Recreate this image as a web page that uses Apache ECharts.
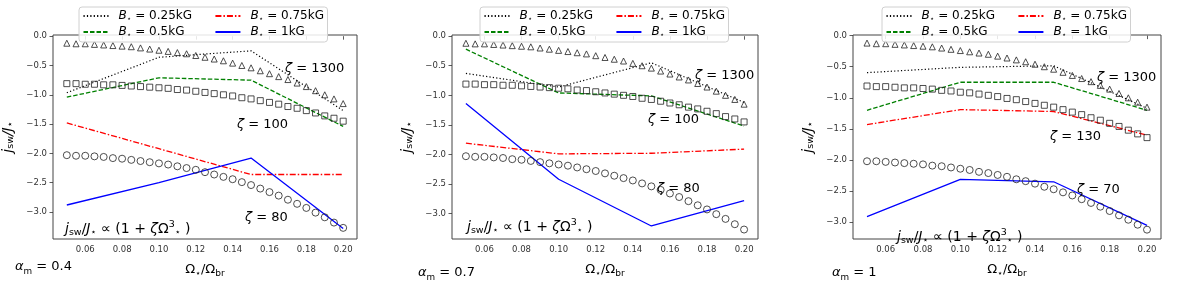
<!DOCTYPE html>
<html><head><meta charset="utf-8">
<script src="https://cdn.jsdelivr.net/npm/echarts@6/dist/echarts.min.js"></script>
<style>html,body{margin:0;padding:0;background:#fff}#c{width:1200px;height:283px}</style>
</head><body><div id="c"></div>
<script>
// ---- data ----
const omega = [0.050,0.055,0.060,0.065,0.070,0.075,0.080,0.085,0.090,0.095,0.100,0.105,0.110,0.115,0.120,0.125,0.130,0.135,0.140,0.145,0.150,0.155,0.160,0.165,0.170,0.175,0.180,0.185,0.190,0.195,0.200];
const bOmega = [0.05, 0.10, 0.15, 0.20];
const xTicks = [0.06,0.08,0.10,0.12,0.14,0.16,0.18,0.20];
const yTicks = [0.0,-0.5,-1.0,-1.5,-2.0,-2.5,-3.0];
const bNames = ['0.25kG','0.5kG','0.75kG','1kG'];
const alphaLabels = ['0.4','0.7','1'];

// reference markers
const tri1300 = [-0.12,-0.13,-0.13,-0.14,-0.15,-0.16,-0.17,-0.18,-0.20,-0.22,-0.24,-0.26,-0.28,-0.30,-0.33,-0.36,-0.39,-0.42,-0.46,-0.50,-0.54,-0.59,-0.64,-0.69,-0.74,-0.80,-0.86,-0.93,-1.00,-1.07,-1.15];
const sq100 = [-0.81,-0.81,-0.82,-0.82,-0.83,-0.83,-0.84,-0.85,-0.86,-0.87,-0.88,-0.89,-0.91,-0.92,-0.94,-0.96,-0.98,-1.00,-1.02,-1.05,-1.07,-1.10,-1.13,-1.16,-1.20,-1.23,-1.27,-1.31,-1.36,-1.40,-1.45];
const circ80 = [-2.03,-2.04,-2.04,-2.05,-2.06,-2.08,-2.09,-2.11,-2.13,-2.15,-2.17,-2.19,-2.22,-2.25,-2.28,-2.32,-2.36,-2.40,-2.44,-2.49,-2.54,-2.60,-2.66,-2.72,-2.79,-2.86,-2.93,-3.01,-3.09,-3.18,-3.27];
const sq130 = [-0.81,-0.82,-0.82,-0.83,-0.84,-0.84,-0.85,-0.86,-0.88,-0.89,-0.91,-0.92,-0.94,-0.96,-0.98,-1.01,-1.03,-1.06,-1.09,-1.12,-1.15,-1.19,-1.23,-1.27,-1.32,-1.36,-1.41,-1.46,-1.52,-1.58,-1.64];
const circ70 = [-2.02,-2.02,-2.03,-2.04,-2.05,-2.06,-2.07,-2.09,-2.10,-2.12,-2.14,-2.16,-2.19,-2.21,-2.24,-2.27,-2.31,-2.34,-2.38,-2.43,-2.47,-2.52,-2.57,-2.63,-2.69,-2.75,-2.82,-2.89,-2.96,-3.04,-3.12];

// simulation lines, per panel, per B (at bOmega)
const p1_b025 = [-0.965,-0.36,-0.25,-1.27];
const p1_b05  = [-1.04,-0.71,-0.75,-1.54];
const p1_b075 = [-1.48,-1.92,-2.36,-2.36];
const p1_b1   = [-2.88,-2.50,-2.08,-3.28];
const p2_b025 = [-0.63,-0.86,-0.45,-1.12];
const p2_b05  = [-0.22,-0.96,-1.01,-1.52];
const p2_b075 = [-1.81,-1.99,-1.98,-1.91];
const p2_b1   = [-1.14,-2.42,-3.21,-2.78];
const p3_b025 = [-0.595,-0.51,-0.485,-1.17];
const p3_b05  = [-1.20,-0.75,-0.75,-1.20];
const p3_b075 = [-1.43,-1.19,-1.22,-1.60];
const p3_b1   = [-2.91,-2.31,-2.35,-3.05];

const zetaLabels = [['1300','100','80'],['1300','100','80'],['1300','130','70']];

// ---- layout / style ----
const FONT = 'DejaVu Sans';
const panels = [
  {left:50, width:307, ymin:-3.46, ymax:0.02, lines:[p1_b025,p1_b05,p1_b075,p1_b1], marks:[tri1300,sq100,circ80], legendLeft:79},
  {left:452, width:306, ymin:-3.43, ymax:0.02, lines:[p2_b025,p2_b05,p2_b075,p2_b1], marks:[tri1300,sq100,circ80], legendLeft:480},
  {left:853, width:308, ymin:-3.27, ymax:0.01, lines:[p3_b025,p3_b05,p3_b075,p3_b1], marks:[tri1300,sq130,circ70], legendLeft:882}
];
const lineStyles = [
  {color:'#000000', width:1.2, type:[1.2,2.2]},
  {color:'#008000', width:1.3, type:[4.5,2]},
  {color:'#ff0000', width:1.3, type:[6,2,1.5,2]},
  {color:'#0000ff', width:1.3, type:'solid'}
];
const markSymbols = [['triangle',6],['rect',6],['circle',7]];

function mkRich(base){
  return {
    i:{fontFamily:FONT, fontStyle:'italic', fontSize:base, lineHeight:18, color:'#000'},
    n:{fontFamily:FONT, fontSize:base, lineHeight:18, color:'#000'},
    s:{fontFamily:FONT, fontSize:base*0.68, lineHeight:10, verticalAlign:'bottom', color:'#000'},
    u:{fontFamily:FONT, fontSize:base*0.68, lineHeight:10, verticalAlign:'top', color:'#000'}
  };
}
const richFormula = mkRich(14);
const richLabel = mkRich(13);
const legRich = {
  g:{width:5, fontSize:12, lineHeight:14},
  i:{fontFamily:FONT, fontStyle:'italic', fontSize:12, lineHeight:14, color:'#000'},
  n:{fontFamily:FONT, fontSize:12, lineHeight:14, color:'#000'},
  n1:{fontFamily:FONT, fontSize:12, lineHeight:14, color:'#000', width:80},
  s:{fontFamily:FONT, fontSize:7.5, lineHeight:8, verticalAlign:'bottom', color:'#000'}
};
const firstCol = {'0.25kG':true, '0.5kG':true};

const fmtY = v => (v === 0 ? '0.0' : v.toFixed(1).replace('-', '\u2212'));

const grid = [], xAxis = [], yAxis = [], series = [], legend = [], graphic = [];
panels.forEach((p, k) => {
  grid.push({left:p.left, top:35, width:p.width, height:217, show:true, borderColor:'#444', borderWidth:1, backgroundColor:'rgba(0,0,0,0)'});
  xAxis.push({type:'value', gridIndex:k, min:0.0425, max:0.2075,
    name:'{n|\u03a9}{s|\u22c6}{n|/\u03a9}{s|br}', nameLocation:'middle', nameGap:23,
    nameTextStyle:{rich:{n:{fontFamily:FONT,fontSize:13,lineHeight:16,color:'#000'}, s:{fontFamily:FONT,fontSize:9,lineHeight:9,verticalAlign:'bottom',color:'#000'}}},
    axisLine:{show:false}, splitLine:{show:false},
    axisTick:{show:true, length:3.5, lineStyle:{color:'#333', width:0.8}, customValues:xTicks},
    axisLabel:{fontFamily:FONT, fontSize:8.5, color:'#333', margin:6, customValues:xTicks, formatter:v=>v.toFixed(2)}
  });
  yAxis.push({type:'value', gridIndex:k, min:p.ymin, max:p.ymax,
    name:'{i|j}{s|sw}{i|/J}{s|\u22c6}', nameLocation:'middle', nameRotate:90, nameGap:37,
    nameTextStyle:{rich:{i:{fontFamily:FONT,fontStyle:'italic',fontSize:14,lineHeight:16,color:'#000'}, s:{fontFamily:FONT,fontSize:9.5,lineHeight:9,verticalAlign:'bottom',color:'#000'}}},
    axisLine:{show:false}, splitLine:{show:false},
    axisTick:{show:true, length:3.5, lineStyle:{color:'#333', width:0.8}, customValues:yTicks},
    axisLabel:{fontFamily:FONT, fontSize:8.5, color:'#333', margin:6, customValues:yTicks, formatter:fmtY}
  });
  p.lines.forEach((arr, j) => {
    series.push({type:'line', name:bNames[j], xAxisIndex:k, yAxisIndex:k, symbol:'none', z:2,
      lineStyle:lineStyles[j], itemStyle:{color:lineStyles[j].color},
      data:bOmega.map((x,i)=>[x, arr[i]]), silent:true});
  });
  p.marks.forEach((arr, j) => {
    series.push({type:'scatter', name:'ref'+k+'_'+j, xAxisIndex:k, yAxisIndex:k,
      symbol:markSymbols[j][0], symbolSize:markSymbols[j][1], z:3,
      itemStyle:{color:'rgba(0,0,0,0)', borderColor:'#222', borderWidth:1},
      data:omega.map((x,i)=>[x, arr[i]]), silent:true});
  });
  legend.push({left:p.legendLeft, top:7, orient:'horizontal', width:250,
    padding:[3,3.5,3,3.5], itemGap:3, itemWidth:25, itemHeight:14,
    backgroundColor:'rgba(255,255,255,0.85)', borderColor:'#d0d0d0', borderWidth:1, borderRadius:3,
    selectedMode:false,
    itemStyle:{color:'rgba(0,0,0,0)', borderColor:'rgba(0,0,0,0)', borderWidth:0, opacity:0},
    data:['0.25kG','0.75kG','0.5kG','1kG'],
    formatter:name=>'{g| }{i|B}{s|\u22c6}{' + (firstCol[name] ? 'n1' : 'n') + '| = ' + name + '}',
    textStyle:{rich:legRich}
  });
});

// annotations (text only)
const zPos = [
  [[285,69],[237,125],[245,218]],
  [[695,76],[648,120],[657,189]],
  [[1097,78],[1050,137],[1077,190]]
];
const formulaPos = [[65,229],[467,227],[897,237]];
const alphaPos = [[15,267],[418,273],[832,273]];
for (let k=0;k<3;k++){
  zetaLabels[k].forEach((z,j)=>{
    graphic.push({type:'text', x:zPos[k][j][0], y:zPos[k][j][1], z:10,
      style:{text:'{i|\u03b6}{n| = '+z+'}', rich:richLabel, verticalAlign:'middle', align:'left'}});
  });
  graphic.push({type:'text', x:formulaPos[k][0], y:formulaPos[k][1], z:10,
    style:{text:'{i|j}{s|sw}{n|/}{i|J}{s|\u22c6}{n| \u221d (1 + }{i|\u03b6}{n|\u03a9}{u|3}{s|\u22c6}{n| )}', rich:richFormula, verticalAlign:'middle', align:'left'}});
  graphic.push({type:'text', x:alphaPos[k][0], y:alphaPos[k][1], z:10,
    style:{text:'{i|\u03b1}{s|m}{n| = '+alphaLabels[k]+'}', rich:richLabel, verticalAlign:'middle', align:'left'}});
}

const chart = echarts.init(document.getElementById('c'), null, {renderer:'canvas'});
chart.setOption({animation:false, grid, xAxis, yAxis, series, legend, graphic});
</script></body></html>
